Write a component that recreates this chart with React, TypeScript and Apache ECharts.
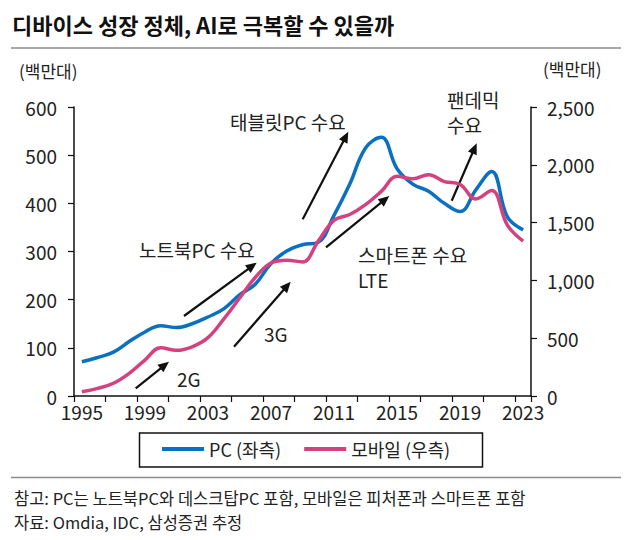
import React, { useEffect, useRef } from 'react';
import * as echarts from 'echarts';

const FONT = '"Noto Sans CJK KR", "Noto Sans", sans-serif';

const years = ['1995', '1996', '1997', '1998', '1999', '2000', '2001', '2002', '2003', '2004', '2005', '2006', '2007', '2008', '2009', '2010', '2011', '2012', '2013', '2014', '2015', '2016', '2017', '2018', '2019', '2020', '2021', '2022', '2023'];

// PC shipments (left axis, millions)
const pcShipments = [71, 80, 91, 113, 133, 146, 142, 150, 164, 181, 210, 232, 275, 301, 314, 319, 375, 440, 515, 537, 472, 440, 425, 400, 383, 428, 466, 372, 345];

// Mobile shipments (right axis, millions)
const mobileShipments = [37, 66, 110, 196, 311, 418, 395, 426, 505, 665, 845, 1025, 1150, 1175, 1160, 1340, 1520, 1570, 1655, 1770, 1900, 1880, 1915, 1855, 1830, 1705, 1778, 1478, 1340];

const seriesNames = ['PC (좌측)', '모바일 (우측)'];
const seriesColors = ['#0a70c0', '#d4417e'];

const title = '디바이스 성장 정체, AI로 극복할 수 있을까';
const unitLabel = '(백만대)';
const footnotes = [
  '참고: PC는 노트북PC와 데스크탑PC 포함, 모바일은 피처폰과 스마트폰 포함',
  '자료: Omdia, IDC, 삼성증권 추정',
];

const noteTexts = ['태블릿PC 수요', '노트북PC 수요', '2G', '3G', '스마트폰 수요\nLTE', '팬데믹\n수요'];
const notePos = [
  [230, 121], [139, 249], [177, 378], [264, 333], [358, 267], [447, 112],
];
const arrowPos = [
  [135.7, 388.3, 169, 361.7],
  [184, 316, 256.7, 262.7],
  [234, 346.7, 290.7, 281.7],
  [302.7, 219.3, 348.3, 131.7],
  [326, 247.3, 389.3, 196],
  [451.7, 200.7, 476.7, 143.3],
];

function arrow(x1: number, y1: number, x2: number, y2: number) {
  const dx = x2 - x1;
  const dy = y2 - y1;
  const len = Math.sqrt(dx * dx + dy * dy);
  const ux = dx / len;
  const uy = dy / len;
  const headL = 11;
  const headW = 4.8;
  const bx = x2 - ux * headL;
  const by = y2 - uy * headL;
  return [
    {
      type: 'line',
      shape: { x1, y1, x2: bx + ux * 2, y2: by + uy * 2 },
      style: { stroke: '#111', lineWidth: 2.2 },
      silent: true,
    },
    {
      type: 'polygon',
      shape: {
        points: [
          [x2, y2],
          [bx - uy * headW, by + ux * headW],
          [bx + uy * headW, by - ux * headW],
        ],
      },
      style: { fill: '#111' },
      silent: true,
    },
  ];
}

export default function App() {
  const ref = useRef<HTMLDivElement>(null);

  useEffect(() => {
    if (!ref.current) return;
    const chart = echarts.init(ref.current, null, { renderer: 'svg' });

    const graphics: any[] = [];
    graphics.push({
      type: 'text',
      style: { text: title, x: 12, y: 24, font: `bold 22px ${FONT}`, fill: '#111', verticalAlign: 'middle' },
    });
    graphics.push({
      type: 'line',
      shape: { x1: 11, y1: 48, x2: 621, y2: 48 },
      style: { stroke: '#8c8c8c', lineWidth: 1.5 },
    });
    graphics.push({
      type: 'text',
      style: { text: unitLabel, x: 19, y: 70, font: `17px ${FONT}`, fill: '#222', verticalAlign: 'middle' },
    });
    graphics.push({
      type: 'text',
      style: { text: unitLabel, x: 543, y: 68, font: `17px ${FONT}`, fill: '#222', verticalAlign: 'middle' },
    });
    noteTexts.forEach((t, i) => {
      graphics.push({
        type: 'text',
        style: {
          text: t,
          x: notePos[i][0],
          y: notePos[i][1],
          font: `19px ${FONT}`,
          lineHeight: 25,
          fill: '#222',
          verticalAlign: 'middle',
        },
      });
    });
    arrowPos.forEach((a) => graphics.push(...arrow(a[0], a[1], a[2], a[3])));
    graphics.push({
      type: 'rect',
      shape: { x: 139.5, y: 433, width: 343, height: 34 },
      style: { fill: 'none', stroke: '#111', lineWidth: 1.5 },
    });
    graphics.push({
      type: 'line',
      shape: { x1: 11, y1: 477.5, x2: 621, y2: 477.5 },
      style: { stroke: '#8c8c8c', lineWidth: 1.5 },
    });
    footnotes.forEach((t, i) => {
      graphics.push({
        type: 'text',
        style: {
          text: t,
          x: 14,
          y: 498 + i * 24,
          font: `16.5px ${FONT}`,
          fill: '#222',
          verticalAlign: 'middle',
        },
      });
    });

    chart.setOption({
      animation: false,
      backgroundColor: '#ffffff',
      textStyle: { fontFamily: FONT },
      grid: { left: 74, top: 107, width: 457, height: 289, containLabel: false },
      legend: {
        data: seriesNames,
        left: 162,
        top: 440,
        padding: 0,
        icon: 'rect',
        itemWidth: 42,
        itemHeight: 4,
        itemGap: 23,
        textStyle: { fontSize: 18, color: '#222', fontFamily: FONT },
      },
      xAxis: {
        type: 'category',
        data: years,
        boundaryGap: true,
        axisLine: { show: true, lineStyle: { color: '#111', width: 1.5 } },
        axisTick: { show: true, interval: 1, length: 6, lineStyle: { color: '#111', width: 1.2 } },
        axisLabel: { interval: 3, margin: 6, fontSize: 19, color: '#222', fontFamily: FONT },
        splitLine: { show: false },
      },
      yAxis: [
        {
          type: 'value',
          min: 0,
          max: 600,
          interval: 100,
          position: 'left',
          axisLine: { show: true, lineStyle: { color: '#111', width: 1.5 } },
          axisTick: { show: true, length: 6, lineStyle: { color: '#111', width: 1.2 } },
          axisLabel: { margin: 17, fontSize: 19, color: '#222', fontFamily: FONT },
          splitLine: { show: false },
        },
        {
          type: 'value',
          min: 0,
          max: 2500,
          interval: 500,
          position: 'right',
          axisLine: { show: true, lineStyle: { color: '#111', width: 1.5 } },
          axisTick: { show: true, length: 6, lineStyle: { color: '#111', width: 1.2 } },
          axisLabel: {
            margin: 16,
            fontSize: 19,
            color: '#222',
            fontFamily: FONT,
            formatter: (v: number) => v.toLocaleString('en-US'),
          },
          splitLine: { show: false },
        },
      ],
      series: [
        {
          name: seriesNames[0],
          type: 'line',
          yAxisIndex: 0,
          data: pcShipments,
          smooth: 0.4,
          showSymbol: false,
          symbol: 'none',
          lineStyle: { color: seriesColors[0], width: 3.5 },
          itemStyle: { color: seriesColors[0] },
          z: 3,
        },
        {
          name: seriesNames[1],
          type: 'line',
          yAxisIndex: 1,
          data: mobileShipments,
          smooth: 0.4,
          showSymbol: false,
          symbol: 'none',
          lineStyle: { color: seriesColors[1], width: 3.5 },
          itemStyle: { color: seriesColors[1] },
          z: 4,
        },
      ],
      graphic: graphics,
    });

    return () => {
      chart.dispose();
    };
  }, []);

  return (
    <div
      ref={ref}
      style={{ position: 'fixed', left: 0, top: 0, width: 633, height: 540, background: '#fff' }}
    />
  );
}
